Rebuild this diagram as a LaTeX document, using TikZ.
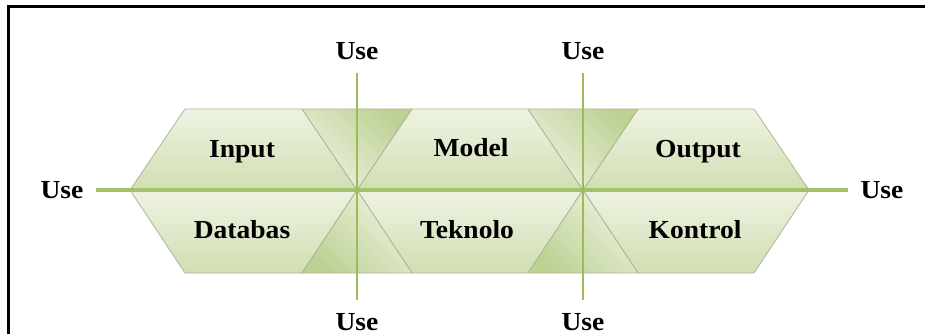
\documentclass[tikz,border=0pt]{standalone}
\usepackage{fontspec}
\setmainfont{Liberation Serif}

\definecolor{paleLeaf}{HTML}{EEF3E2}
\definecolor{softLeaf}{HTML}{D1DEB3}
\definecolor{deepLeaf}{HTML}{BDD193}
\definecolor{rimGrey}{HTML}{AAB894}
\definecolor{axisGreen}{HTML}{A5C06C}
\definecolor{stemGreen}{HTML}{9DBA5C}

\newcommand{\widetxt}[1]{\scalebox{1.06}[1]{#1}}

\begin{document}
\begin{tikzpicture}[x=1pt,y=-1pt,
  block/.style={draw=rimGrey, line width=0.8pt, line join=round,
    top color=paleLeaf, bottom color=softLeaf},
  wedgeup/.style={draw=rimGrey, line width=0.8pt, line join=round,
    top color=deepLeaf, bottom color=paleLeaf, shading angle=-45},
  wedgedown/.style={draw=rimGrey, line width=0.8pt, line join=round,
    top color=paleLeaf, bottom color=deepLeaf, shading angle=-45},
  txt/.style={font=\bfseries\fontsize{26}{29}\selectfont, text=black,
    inner sep=1pt, anchor=base},
  usetxt/.style={txt, outer sep=12pt},
  mainaxis/.style={draw=axisGreen, line width=4pt},
  stem/.style={draw=stemGreen, line width=2pt}]

\useasboundingbox (0,0) rectangle (925,334);

% frame corner
\draw[line width=2.2pt] (925,6.5) -- (8.5,6.5) -- (8.5,334);

% upper row of blocks
\path[block] (185,109) -- (302,109) -- (357,190) -- (130,190) -- cycle;
\path[block] (412,109) -- (528,109) -- (583,190) -- (357,190) -- cycle;
\path[block] (638,109) -- (754,109) -- (809,190) -- (583,190) -- cycle;
% lower row of blocks
\path[block] (130,190) -- (357,190) -- (302,273) -- (185,273) -- cycle;
\path[block] (357,190) -- (583,190) -- (528,273) -- (412,273) -- cycle;
\path[block] (583,190) -- (809,190) -- (754,273) -- (638,273) -- cycle;

% wedges around the two crossings
\path[wedgeup] (302,109) -- (412,109) -- (357,190) -- cycle;
\path[wedgeup] (528,109) -- (638,109) -- (583,190) -- cycle;
\path[wedgedown] (357,190) -- (412,273) -- (302,273) -- cycle;
\path[wedgedown] (583,190) -- (638,273) -- (528,273) -- cycle;

% block labels
\node[txt] (input)   at (242,157) {\widetxt{Input}};
\node[txt] (databas) at (242,238) {\widetxt{Databas}};
\node[txt] (model)   at (471,156) {\widetxt{Model}};
\node[txt] (teknolo) at (467,238) {\widetxt{Teknolo}};
\node[txt] (output)  at (698,157) {\widetxt{Output}};
\node[txt] (kontrol) at (695,238) {\widetxt{Kontrol}};

% "Use" ends of the axes
\node[usetxt] (useL)  at (62,198)  {\widetxt{Use}};
\node[usetxt] (useR)  at (882,198) {\widetxt{Use}};
\node[usetxt] (useT1) at (357,60)  {\widetxt{Use}};
\node[usetxt] (useT2) at (583,60)  {\widetxt{Use}};
\node[usetxt] (useB1) at (357,330) {\widetxt{Use}};
\node[usetxt] (useB2) at (583,330) {\widetxt{Use}};

% axes
\draw[mainaxis] (useL) -- (useR);
\draw[stem] (useT1) -- (useB1);
\draw[stem] (useT2) -- (useB2);

\end{tikzpicture}
\end{document}
